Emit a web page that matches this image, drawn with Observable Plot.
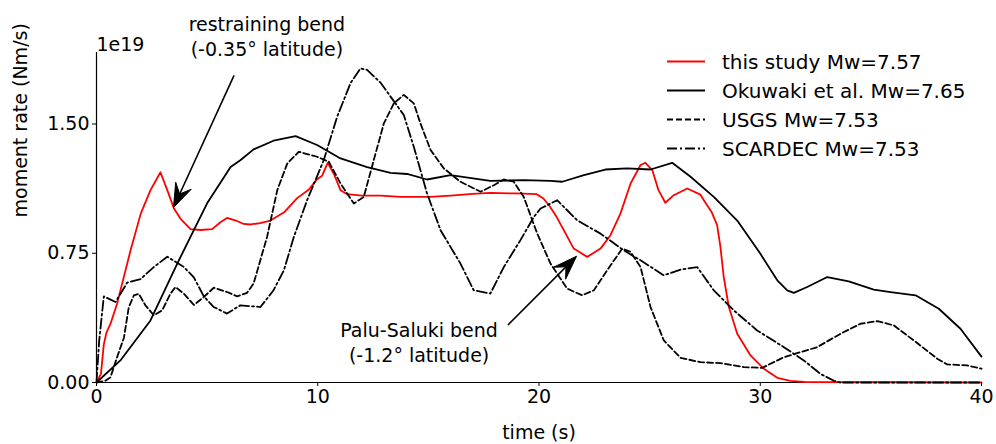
<!DOCTYPE html>
<html><head><meta charset="utf-8">
<script src="https://cdn.jsdelivr.net/npm/d3@7"></script>
<script src="https://cdn.jsdelivr.net/npm/@observablehq/plot@0.6"></script>
<style>
body{margin:0;background:#fff;font-family:"DejaVu Sans",sans-serif;}
#wrap{position:relative;width:996px;height:444px;}
#legend{position:absolute;left:667px;top:47px;font-size:20px;color:#000;}
.row{display:flex;align-items:center;height:29px;white-space:nowrap;}
.row svg{margin-right:17px;display:block;}
</style></head><body><div id="wrap"><div id="legend"></div></div>
<script>
// ---- data (time in s, moment rate in 1e19 Nm/s) ----
const redT = [0,0.2,0.33,0.45,0.63,0.93,1.23,1.54,2.0,2.44,2.89,3.2,3.5,3.8,4.25,4.7,5.23,5.6,5.9,6.3,6.65,6.96,7.4,7.86,8.5,9.07,9.6,9.97,10.2,10.45,10.73,11.03,11.33,12.0,12.84,13.74,14.5,15.1,16.0,17.0,17.8,19.0,19.9,20.2,20.5,20.8,21.12,21.57,22.18,22.78,23.23,23.68,24.14,24.59,24.81,25.12,25.4,25.71,26.09,26.7,27.3,27.45,27.8,28.05,28.2,28.35,28.58,28.96,29.56,30.16,30.77,31.37,32.0,40];
const redV = [0,0.05,0.22,0.29,0.34,0.457,0.61,0.767,0.98,1.116,1.22,1.116,1.01,0.95,0.89,0.885,0.89,0.93,0.955,0.94,0.92,0.917,0.925,0.94,0.99,1.07,1.12,1.18,1.2,1.275,1.21,1.116,1.093,1.085,1.085,1.077,1.077,1.077,1.085,1.095,1.10,1.097,1.093,1.068,1.02,0.96,0.884,0.777,0.729,0.777,0.855,0.98,1.155,1.262,1.275,1.233,1.116,1.043,1.087,1.126,1.09,1.058,0.99,0.913,0.787,0.612,0.438,0.283,0.157,0.08,0.027,0.01,0.003,0];
const okuT = [0,1.08,2.44,3.65,5.0,6.06,6.5,7.1,8.0,9.0,9.97,11.03,12.23,13.29,14.04,14.94,16.0,17.8,19.31,20.52,21.05,22.03,23.0,23.98,25.04,26.02,26.85,27.9,28.96,30.0,30.77,31.22,31.52,32.12,33.03,34.0,35.13,35.89,37.02,38.07,39.05,40];
const okuV = [0,0.128,0.36,0.69,1.04,1.25,1.29,1.353,1.403,1.43,1.378,1.30,1.25,1.217,1.21,1.178,1.203,1.17,1.174,1.17,1.165,1.203,1.236,1.242,1.236,1.275,1.194,1.077,0.94,0.748,0.593,0.535,0.52,0.554,0.612,0.587,0.539,0.525,0.506,0.428,0.312,0.15];
const usgsT = [0,0.4,0.63,0.93,1.24,1.46,1.69,1.91,2.21,2.59,2.97,3.34,3.57,3.95,4.4,4.85,5.3,5.9,6.36,6.8,7.1,7.71,8.17,8.62,9.14,9.97,10.5,11.03,11.63,12.08,12.53,12.99,13.44,13.89,14.34,14.64,15.1,15.7,16.45,17.36,17.96,18.41,18.86,19.31,19.92,20.52,21.27,21.95,22.48,23.08,23.76,24.14,24.59,25.04,25.64,26.4,27.3,28.2,29.26,30.09,31.07,32.57,33.63,34.53,35.29,36.04,36.94,38.0,38.45,39.35,40];
const usgsV = [0,0.01,0.03,0.147,0.26,0.438,0.506,0.515,0.448,0.39,0.419,0.515,0.554,0.515,0.45,0.496,0.55,0.525,0.50,0.52,0.574,0.845,1.116,1.27,1.339,1.31,1.281,1.155,1.039,1.077,1.29,1.504,1.62,1.669,1.62,1.504,1.349,1.242,1.165,1.107,1.145,1.178,1.165,1.077,0.864,0.69,0.545,0.506,0.535,0.651,0.777,0.758,0.67,0.438,0.244,0.143,0.118,0.112,0.089,0.085,0.147,0.205,0.283,0.341,0.356,0.331,0.244,0.138,0.105,0.099,0.08];
const scarT = [0,0.12,0.33,0.86,1.39,1.99,2.59,3.2,3.95,4.4,4.85,5.3,5.9,6.5,7.41,8.0,8.47,8.92,9.52,10.27,10.88,11.48,11.93,12.23,12.84,13.29,13.89,14.34,14.94,15.55,16.45,17.05,17.8,18.41,19.16,19.77,20.07,20.82,21.72,22.78,23.83,24.59,25.64,26.4,27.15,27.9,28.8,29.86,31.07,31.97,32.72,33.33,33.6,40];
const scarV = [0,0.24,0.5,0.467,0.58,0.60,0.67,0.73,0.67,0.61,0.50,0.438,0.40,0.448,0.438,0.535,0.651,0.845,1.058,1.29,1.543,1.737,1.823,1.814,1.74,1.659,1.552,1.368,1.097,0.884,0.69,0.535,0.516,0.67,0.826,0.961,1.01,1.058,0.942,0.864,0.767,0.709,0.622,0.655,0.67,0.535,0.419,0.302,0.205,0.128,0.05,0.01,0,0];

const seriesNames = ["this study Mw=7.57","Okuwaki et al. Mw=7.65","USGS Mw=7.53","SCARDEC Mw=7.53"];
const xTicks = [0,10,20,30,40];
const yTicks = [0,0.75,1.5];

const annoLabels = ["restraining bend\n(-0.35° latitude)","Palu-Saluki bend\n(-1.2° latitude)"];
const annoTextT = [7.70, 14.58];
const annoTextV = [2.016, 0.238];
const arrowTailT = [6.24, 18.62];
const arrowTailV = [1.779, 0.331];
const arrowTipT = [3.50, 21.72];
const arrowTipV = [1.012, 0.73];

// ---- build ----
const zip = (T,V) => T.map((t,i)=>({t, v:V[i]}));
const styles = [
  {stroke:"#ff0000", dash:null, w:1.8},
  {stroke:"#000", dash:null, w:1.8},
  {stroke:"#000", dash:"6,3", w:1.8},
  {stroke:"#000", dash:"10,3,2,3", w:1.8}
];
const data = [zip(redT,redV), zip(okuT,okuV), zip(usgsT,usgsV), zip(scarT,scarV)];

function arrows(index, scales) {
  const g = d3.create("svg:g");
  for (let i = 0; i < arrowTailT.length; i++) {
    const x1 = scales.x(arrowTailT[i]), y1 = scales.y(arrowTailV[i]);
    const x2 = scales.x(arrowTipT[i]), y2 = scales.y(arrowTipV[i]);
    const len = Math.hypot(x2-x1, y2-y1);
    const ux = (x2-x1)/len, uy = (y2-y1)/len, nx = -uy, ny = ux;
    const L = 24, W = 8.5, N = 15;
    const bx = x2 - ux*L, by = y2 - uy*L;
    const kx = x2 - ux*N, ky = y2 - uy*N;
    g.append("line").attr("x1",x1).attr("y1",y1).attr("x2",kx).attr("y2",ky)
      .attr("stroke","#000").attr("stroke-width",1.6);
    g.append("path").attr("d",`M${x2},${y2}L${bx+nx*W},${by+ny*W}L${kx},${ky}L${bx-nx*W},${by-ny*W}Z`)
      .attr("fill","#000").attr("stroke","#000").attr("stroke-width",1).attr("stroke-linejoin","miter");
  }
  return g.node();
}

const marks = [
  Plot.ruleY([0], {stroke:"#000", strokeWidth:1.2}),
  Plot.ruleX([0], {stroke:"#000", strokeWidth:1.2}),
  ...data.map((d,i)=>Plot.line(d, {x:"t", y:"v", stroke:styles[i].stroke, strokeWidth:styles[i].w, strokeDasharray:styles[i].dash, curve:"linear"})),
  Plot.axisX({ticks:xTicks, tickSize:4, tickPadding:3, tickFormat:d=>String(d), label:null}),
  Plot.axisY({ticks:yTicks, tickSize:4, tickPadding:3, tickFormat:d3.format(".2f"), label:null}),
  Plot.text(["time (s)"], {frameAnchor:"bottom", lineAnchor:"middle", dy:50, fontSize:19}),
  Plot.text(["moment rate (Nm/s)"], {frameAnchor:"left", dx:-76, rotate:-90, fontSize:19}),
  Plot.text(["1e19"], {frameAnchor:"top-left", textAnchor:"start", lineAnchor:"middle", dy:-8, fontSize:19}),
  Plot.text(annoLabels, {x:(d,i)=>annoTextT[i], y:(d,i)=>annoTextV[i], text:d=>d, fontSize:19, lineHeight:1.34}),
  arrows
];

const chart = Plot.plot({
  width:996, height:444,
  marginLeft:96, marginRight:15, marginTop:52, marginBottom:62,
  x:{domain:[0,40]},
  y:{domain:[0,1.915]},
  style:{fontFamily:"DejaVu Sans", fontSize:"19px", color:"#000", background:"#fff", overflow:"visible"},
  marks
});
document.getElementById("wrap").prepend(chart);

// legend
const leg = document.getElementById("legend");
seriesNames.forEach((name,i)=>{
  const row = document.createElement("div"); row.className="row";
  const s = styles[i];
  row.innerHTML = `<svg width="38" height="29"><line x1="0" x2="38" y1="14.5" y2="14.5" stroke="${s.stroke}" stroke-width="${s.w}" ${s.dash?`stroke-dasharray="${s.dash}"`:""}/></svg><span>${name}</span>`;
  leg.appendChild(row);
});
</script>
</body></html>
